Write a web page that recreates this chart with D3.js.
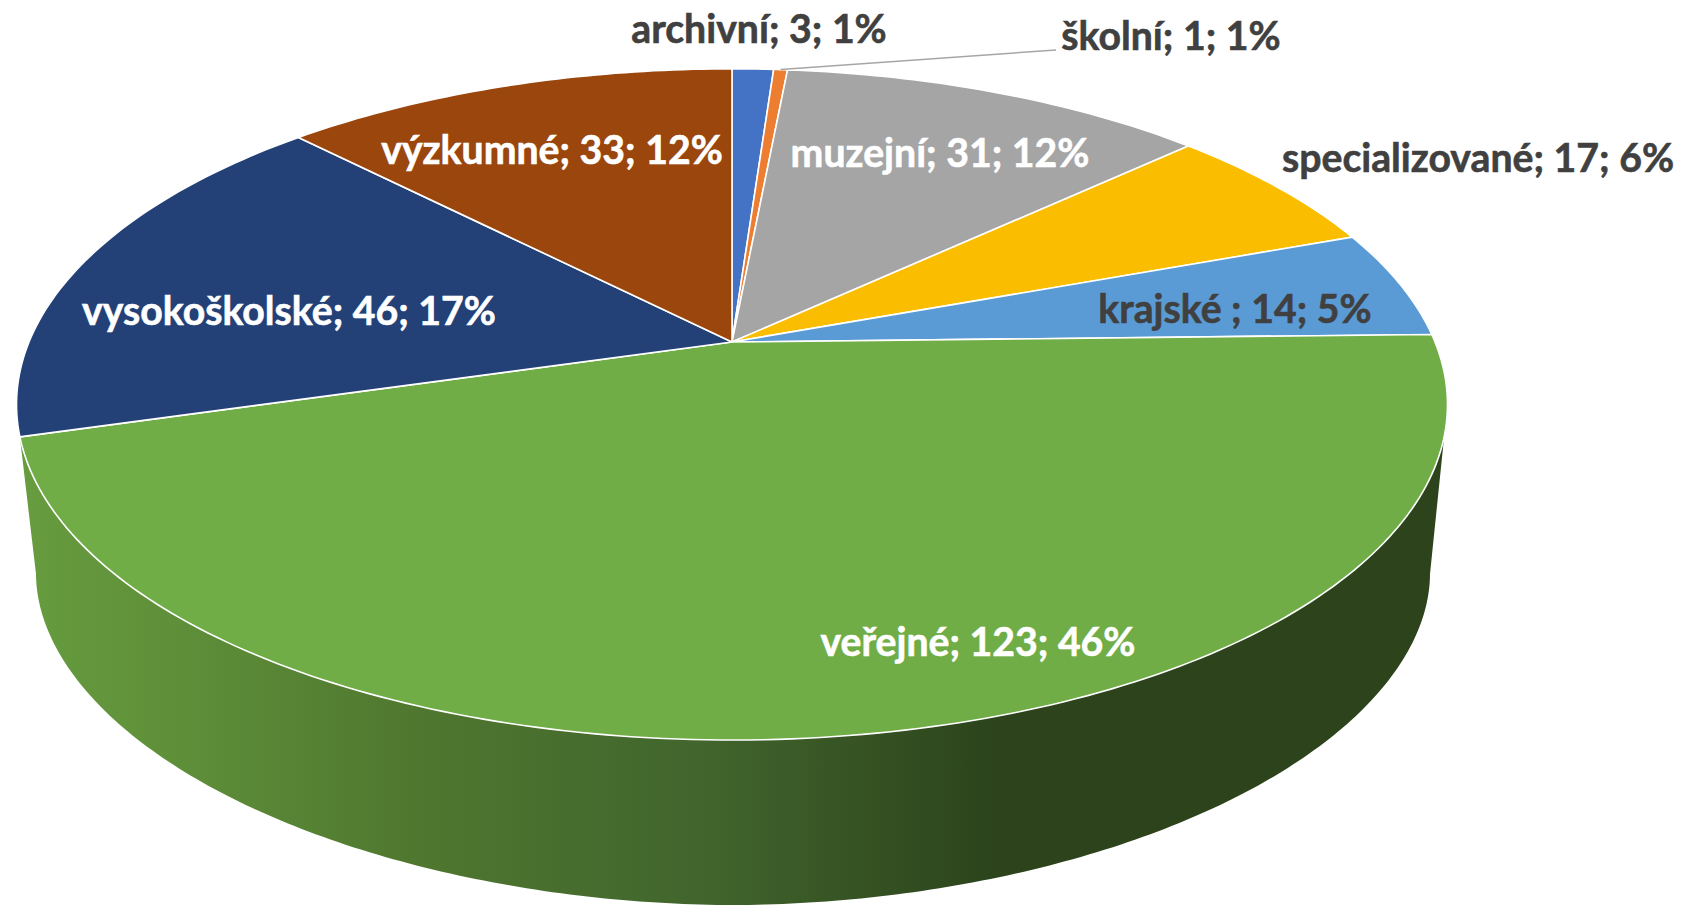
<!DOCTYPE html>
<html><head><meta charset="utf-8">
<style>html,body{margin:0;padding:0;background:#fff;overflow:hidden}svg{display:block}
text{font-family:Lato,"Open Sans",sans-serif;font-weight:700;font-size:39.2px;stroke-width:0.6px}</style>
<script src="https://cdn.jsdelivr.net/npm/d3@7"></script></head><body>
<svg id="c" width="1681" height="905"></svg>
<script>
const categories = ["archivní","školní","muzejní","specializované","krajské ","veřejné","vysokoškolské","výzkumné"];
const values = [3,1,31,17,14,123,46,33];
const percents = [1,1,12,6,5,46,17,12];
const colors = ["#4472c4","#ed7d31","#a5a5a5","#fbbd00","#5b9bd5","#70ad47","#234177","#9a460d"];
const labelColors = ["#404040","#404040","#ffffff","#404040","#404040","#ffffff","#ffffff","#ffffff"];
const labelCx = [759,1171,940,1478,1235,978,289,552];
const labelBase = [43,50,167,172,323,656,325,164];
const gradStops = [[20,"#679c3f"],[200,"#5d8d38"],[420,"#4f772f"],[700,"#41652d"],[1000,"#2c431b"],[1445,"#2c431b"]];

// perspective projection of the pie's top face
const P = {cx:732, cy:342, A:703, B:324, k:0.186};
const project = a => {
  const u = Math.sin(a), v = Math.cos(a), d = 1 + P.k*v;
  return [P.cx + P.A*u/d, P.cy - P.B*v/d];
};
// lower rim of the extruded wall
const R = {cx:733, cy:574, rx:697, ry:331, e:1.93};
const rim = t => {
  const c = Math.cos(t), s = Math.sin(t);
  return [R.cx + R.rx*Math.sign(c)*Math.pow(Math.abs(c),2/R.e), R.cy + R.ry*Math.pow(Math.abs(s),2/R.e)];
};

const svg = d3.select("#c");
const line = d3.line();
const arcs = d3.pie().sort(null).value(d=>d)(values);
const rows = arcs.map((d,i)=>({...d,name:categories[i],pct:percents[i],fill:colors[i],tc:labelColors[i],lx:labelCx[i],ly:labelBase[i]}));

const grad = svg.append("defs").append("linearGradient").attr("id","wall")
  .attr("gradientUnits","userSpaceOnUse").attr("x1",0).attr("x2",1681).attr("y1",0).attr("y2",0);
grad.selectAll("stop").data(gradStops).join("stop")
  .attr("offset",d=>d[0]/1681).attr("stop-color",d=>d[1]);

// wall: front rim of the largest slice, then the lower rim
const front = rows[5];
const a0 = 2*Math.PI - front.endAngle, a1 = front.endAngle;
const wallTop = d3.range(0,121).map(i=>project(a0+(a1-a0)*i/120));
const wallBottom = d3.range(0,241).map(i=>rim(Math.PI - Math.PI*i/240));
svg.append("path").attr("d",line(wallTop.concat(wallBottom))+"Z").attr("fill","url(#wall)");

// top face
svg.append("g").selectAll("path").data(rows).join("path")
  .attr("d",d=>{
    const n = Math.max(4,Math.ceil((d.endAngle-d.startAngle)*60));
    const pts = d3.range(0,n+1).map(i=>project(d.startAngle+(d.endAngle-d.startAngle)*i/n));
    return line([[P.cx,P.cy],...pts])+"Z";
  })
  .attr("fill",d=>d.fill).attr("stroke","#fff").attr("stroke-width",1.6).attr("stroke-linejoin","round");

// leader line for the smallest slice
const sk = rows[1], skP = project((sk.startAngle+sk.endAngle)/2);
svg.append("path").attr("d",line([skP,[sk.lx-115,sk.ly]])).attr("fill","none").attr("stroke","#a6a6a6").attr("stroke-width",1.5);

svg.append("g").selectAll("text").data(rows).join("text")
  .attr("x",d=>d.lx).attr("y",d=>d.ly).attr("text-anchor","middle").attr("fill",d=>d.tc).attr("stroke",d=>d.tc)
  .text(d=>`${d.name}; ${d.data}; ${d.pct}%`);
</script></body></html>
